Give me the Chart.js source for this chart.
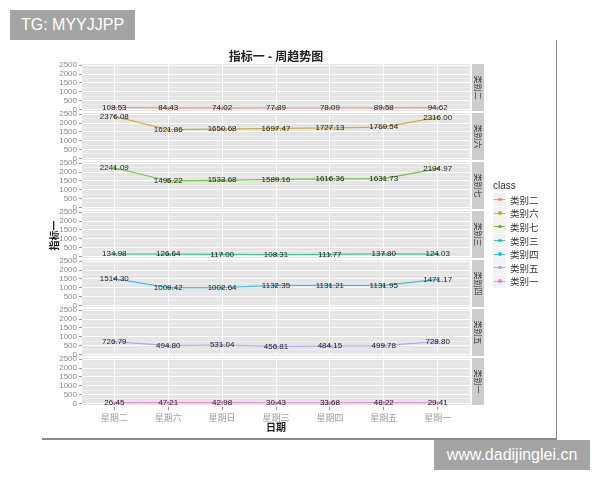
<!DOCTYPE html>
<html>
<head>
<meta charset="utf-8">
<script src="https://cdn.jsdelivr.net/npm/chart.js@4.4.1/dist/chart.umd.min.js"></script>
<style>
  body { margin: 0; background: #fff; }
  #wrap { position: relative; width: 600px; height: 480px; overflow: hidden; }
  #c { position: absolute; left: 0; top: 0; }
  .frameB { position: absolute; left: 42px; top: 438px; width: 515px; height: 1.5px; background: #8a8a8a; }
  .frameR { position: absolute; left: 555.5px; top: 40px; width: 1.5px; height: 399px; background: #8a8a8a; }
  .mark { position: absolute; background: #a4a4a4; color: #fff; font: 16px "Liberation Sans", sans-serif;
          display: flex; align-items: center; justify-content: center; }
  #legend { position: absolute; left: 493px; top: 179px; font-family: "Liberation Sans", "Noto Sans CJK SC", sans-serif; color: #333; }
  #legend .ttl { font-size: 10px; height: 14px; line-height: 14px; }
  #legend .row { display: flex; align-items: center; height: 13.6px; }
  #legend .key { position: relative; width: 13px; height: 13px; background: #f2f2f2; margin-right: 4px; }
  #legend .key i { position: absolute; left: 1px; right: 1px; top: 6px; height: 1px; opacity: 0.75; }
  #legend .key b { position: absolute; left: 5px; top: 4.5px; width: 3.5px; height: 3.5px; border-radius: 50%; opacity: 0.8; }
  #legend .lbl { font-size: 9.5px; font-family: "Noto Sans CJK SC", sans-serif; }
</style>
</head>
<body>
<div id="wrap">
  <canvas id="c" width="600" height="480"></canvas>
  <div class="frameB"></div>
  <div class="frameR"></div>
  <div class="mark" style="left:10px;top:10px;width:125px;height:30px;">TG: MYYJJPP</div>
  <div class="mark" style="left:434px;top:440px;width:156px;height:30px;">www.dadijinglei.cn</div>
  <div id="legend"></div>
</div>
<script>
// 日期（横轴类别）
const days = ['星期二', '星期六', '星期日', '星期三', '星期四', '星期五', '星期一'];
// 每个分面的类别
const classes = ['类别二', '类别六', '类别七', '类别三', '类别四', '类别五', '类别一'];
const classColors = ['#F8766D', '#C49A00', '#53B400', '#00C094', '#00B6EB', '#A58AFF', '#FB61D7'];
// 指标一 的数值
const v2 = [108.53, 84.43, 74.02, 77.89, 78.09, 89.58, 94.62];
const v6 = [2376.08, 1621.86, 1650.68, 1697.47, 1727.13, 1769.54, 2316.00];
const v7 = [2241.09, 1495.22, 1533.68, 1589.16, 1616.36, 1631.73, 2194.97];
const v3 = [134.98, 126.64, 117.00, 108.31, 111.77, 137.80, 124.03];
const v4 = [1514.30, 1009.42, 1002.64, 1132.35, 1131.21, 1131.95, 1471.17];
const v5 = [726.79, 494.80, 531.04, 456.81, 484.15, 499.78, 728.80];
const v1 = [26.45, 47.21, 42.98, 30.43, 33.68, 48.22, 29.41];
const series = [v2, v6, v7, v3, v4, v5, v1];
// 纵轴刻度
const yTicks = [0, 250, 500, 750, 1000, 1250, 1500, 1750, 2000, 2250, 2500];

const LAT = '"Liberation Sans", "Noto Sans CJK SC", sans-serif';
const GAP = 2;

function fade(hex, a) {
  const n = parseInt(hex.slice(1), 16);
  return `rgba(${n >> 16},${(n >> 8) & 255},${n & 255},${a})`;
}

// 图例
const legend = document.getElementById('legend');
legend.innerHTML = '<div class="ttl">class</div>' + classes.map((c, i) =>
  `<div class="row"><div class="key"><i style="background:${classColors[i]}"></i><b style="background:${classColors[i]}"></b></div><span class="lbl">${c}</span></div>`
).join('');

function panelScales(chart) {
  return classes.map((c, i) => chart.scales['y' + i]);
}

const facetPlugin = {
  id: 'facets',
  beforeDraw(chart) {
    const { ctx, chartArea } = chart;
    ctx.save();
    ctx.fillStyle = '#E5E5E5';
    panelScales(chart).forEach(s => {
      ctx.fillRect(chartArea.left, s.top, chartArea.right - chartArea.left, s.bottom - s.top - GAP);
    });
    ctx.restore();
  },
  beforeDatasetsDraw(chart) {
    const { ctx, chartArea } = chart;
    ctx.save();
    ctx.fillStyle = '#fff';
    panelScales(chart).forEach(s => {
      ctx.fillRect(chartArea.left, s.bottom - GAP, chartArea.right - chartArea.left, GAP);
    });
    ctx.restore();
  },
  afterDatasetsDraw(chart) {
    const { ctx } = chart;
    ctx.save();
    ctx.font = '8px ' + LAT;
    ctx.fillStyle = '#1a1a1a';
    ctx.textAlign = 'center';
    ctx.textBaseline = 'middle';
    series.forEach((vals, d) => {
      chart.getDatasetMeta(d).data.forEach((pt, j) => {
        ctx.fillText(vals[j].toFixed(2), pt.x, pt.y);
      });
    });
    ctx.restore();
  },
  afterDraw(chart) {
    const { ctx, chartArea } = chart;
    ctx.save();
    // 分面标签
    panelScales(chart).forEach((s, i) => {
      const x0 = chartArea.right + 2;
      const h = s.bottom - s.top - GAP;
      ctx.fillStyle = '#CCCCCC';
      ctx.fillRect(x0, s.top, 12, h);
      ctx.save();
      ctx.translate(x0 + 6, s.top + h / 2);
      ctx.rotate(Math.PI / 2);
      ctx.fillStyle = '#333';
      ctx.font = '8px "Noto Sans CJK SC", sans-serif';
      ctx.textAlign = 'center';
      ctx.textBaseline = 'middle';
      ctx.fillText(classes[i], 0, 0);
      ctx.restore();
    });
    // 标题
    const cx = (chartArea.left + chartArea.right) / 2;
    ctx.fillStyle = '#222';
    ctx.textAlign = 'center';
    ctx.textBaseline = 'middle';
    ctx.font = 'bold 12px ' + LAT;
    ctx.fillText('指标一 - 周趋势图', cx, 58);
    ctx.font = 'bold 10px "Noto Sans CJK SC", sans-serif';
    ctx.fillText('日期', cx, 427);
    ctx.save();
    ctx.translate(54, (chartArea.top + chartArea.bottom) / 2);
    ctx.rotate(-Math.PI / 2);
    ctx.fillText('指标一', 0, 0);
    ctx.restore();
    ctx.restore();
  }
};

const scales = {
  x: {
    type: 'linear',
    position: 'bottom',
    min: -0.6,
    max: days.length - 0.4,
    afterBuildTicks: s => { s.ticks = days.map((d, i) => ({ value: i })); },
    afterFit: s => { s.height = 30; },
    ticks: {
      autoSkip: false,
      maxRotation: 0,
      padding: 2,
      color: '#a0a0a0',
      font: { size: 9, family: '"Noto Sans CJK SC", sans-serif' },
      callback: v => days[v]
    },
    grid: { color: '#ffffff', lineWidth: 1, tickLength: 3, tickColor: '#999' },
    border: { display: false }
  }
};
classes.forEach((c, i) => {
  scales['y' + i] = {
    type: 'linear',
    position: 'left',
    stack: 'facets',
    stackWeight: 1,
    weight: classes.length - i,
    min: -204,
    max: 2568,
    afterBuildTicks: s => { s.ticks = yTicks.map(v => ({ value: v })); },
    afterFit: s => { s.width = 40; },
    ticks: {
      autoSkip: false,
      padding: 2,
      color: '#8a8a8a',
      font: { size: 8, family: LAT },
      callback: v => (v % 500 === 0 ? String(v) : '')
    },
    grid: {
      color: ctx => (ctx.tick && ctx.tick.value % 500 === 0 ? '#ffffff' : '#F2F2F2'),
      lineWidth: ctx => (ctx.tick && ctx.tick.value % 500 === 0 ? 1 : 0.6),
      tickLength: 3,
      tickColor: ctx => (ctx.tick && ctx.tick.value % 500 === 0 ? '#999' : 'rgba(0,0,0,0)')
    },
    border: { display: false }
  };
});

new Chart(document.getElementById('c'), {
  type: 'line',
  data: {
    datasets: series.map((vals, i) => ({
      label: classes[i],
      data: vals.map((v, j) => ({ x: j, y: v })),
      xAxisID: 'x',
      yAxisID: 'y' + i,
      borderColor: fade(classColors[i], 0.75),
      backgroundColor: fade(classColors[i], 0.8),
      borderWidth: 1.2,
      pointRadius: 1.5,
      pointBorderWidth: 0,
      tension: 0
    }))
  },
  options: {
    responsive: false,
    animation: false,
    layout: { padding: { left: 42, right: 130, top: 64, bottom: 43 } },
    plugins: { legend: { display: false }, tooltip: { enabled: false } },
    scales
  },
  plugins: [facetPlugin]
});
</script>
</body>
</html>
